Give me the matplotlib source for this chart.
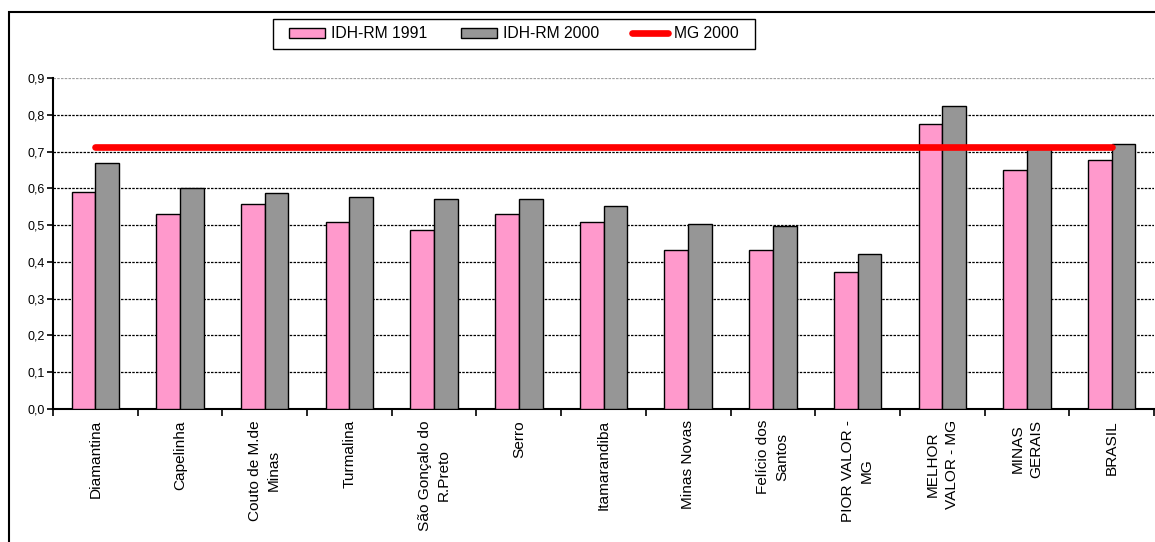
import matplotlib
matplotlib.use("Agg")
import matplotlib.pyplot as plt
from matplotlib.patches import Rectangle, Patch
from matplotlib.lines import Line2D
import numpy as np

plt.rcParams['font.family'] = ['Liberation Sans', 'DejaVu Sans']

categories = ["Diamantina", "Capelinha", "Couto de M.de\nMinas", "Turmalina",
              "São Gonçalo do\nR.Preto", "Serro", "Itamarandiba", "Minas Novas",
              "Felício dos\nSantos", "PIOR VALOR -\nMG", "MELHOR\nVALOR - MG",
              "MINAS\nGERAIS", "BRASIL"]
idh_1991 = [0.591, 0.530, 0.558, 0.508, 0.487, 0.530, 0.508, 0.432, 0.432, 0.372, 0.776, 0.650, 0.677]
idh_2000 = [0.668, 0.602, 0.586, 0.576, 0.570, 0.570, 0.553, 0.503, 0.498, 0.422, 0.825, 0.709, 0.721]
mg_2000 = [0.713] * 13
yticks = [0.0, 0.1, 0.2, 0.3, 0.4, 0.5, 0.6, 0.7, 0.8, 0.9]
ytick_labels = ["0,0", "0,1", "0,2", "0,3", "0,4", "0,5", "0,6", "0,7", "0,8", "0,9"]

W, H = 1155, 542
fig = plt.figure(figsize=(W / 100, H / 100), dpi=100)
ax = fig.add_axes([53 / W, 1 - 409 / H, (1154 - 53) / W, (409 - 78) / H])

x = np.arange(len(categories))
bw = 0.28
pink = '#ff99cc'
gray = '#969696'
ax.bar(x - bw / 2, idh_1991, bw, color=pink, edgecolor='black', linewidth=1.0, zorder=3)
ax.bar(x + bw / 2, idh_2000, bw, color=gray, edgecolor='black', linewidth=1.0, zorder=3)
ax.plot(x, mg_2000, color='#ff0000', linewidth=4.8, solid_capstyle='round', zorder=4)

ax.set_xlim(-0.5, len(categories) - 0.5)
ax.set_ylim(0, 0.9)
ax.set_yticks(yticks)
ax.set_yticklabels(ytick_labels, fontsize=9)
ax.tick_params(axis='y', direction='out', length=4, width=1.2, pad=2)

ax.set_xticks(x)
ax.set_xticklabels([])
ax.tick_params(axis='x', which='major', length=0)
ax.set_xticks(np.arange(len(categories) + 1) - 0.5, minor=True)
ax.tick_params(axis='x', which='minor', direction='out', length=5, width=1.2)

for xi, lab in zip(x, categories):
    ax.text(xi, -0.03, lab, rotation=90, ha='center', va='top', multialignment='center',
            fontsize=11.1, linespacing=1.45, transform=ax.transData, clip_on=False)

ax.yaxis.grid(True, linestyle=(0, (2, 1)), color='black', linewidth=0.9, zorder=0)
ax.set_axisbelow(True)
gl = ax.get_ygridlines()
gl[-1].set_color('#a0a0a0')

for s in ['top', 'right']:
    ax.spines[s].set_visible(False)
ax.spines['left'].set_linewidth(1.5)
ax.spines['bottom'].set_linewidth(1.5)

handles = [Patch(facecolor=pink, edgecolor='black', linewidth=1.0),
           Patch(facecolor=gray, edgecolor='black', linewidth=1.0),
           Line2D([0], [0], color='#ff0000', linewidth=4.8, solid_capstyle='round')]
labels = ["IDH-RM 1991", "IDH-RM 2000", "MG 2000"]
leg = fig.legend(handles, labels, loc='center', bbox_to_anchor=(514 / W, 1 - 34 / H),
                 ncol=3, fontsize=11.3, frameon=False,
                 borderpad=0.0, handlelength=2.3, handleheight=0.6, columnspacing=2.1,
                 handletextpad=0.38, borderaxespad=0)

fig.patches.append(Rectangle((273 / W, 1 - 49 / H), (755 - 273) / W, 30 / H,
                             transform=fig.transFigure, fill=False, edgecolor='black',
                             linewidth=1.0))

fig.patches.append(Rectangle((9 / W, -0.1), 1.2, 1.1 - 11.5 / H, transform=fig.transFigure,
                             fill=False, edgecolor='black', linewidth=1.5))

fig.savefig('out.png', dpi=100)
